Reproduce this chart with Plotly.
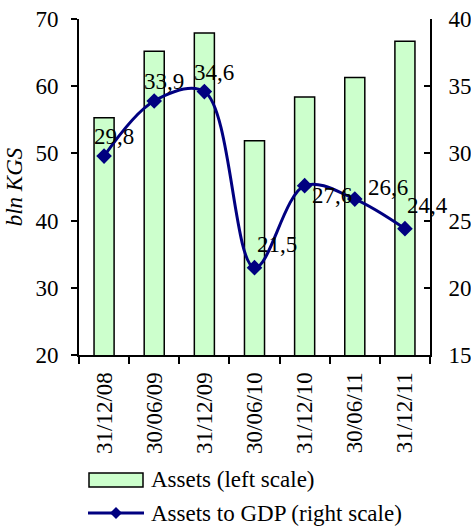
import plotly.graph_objects as go

categories = ["31/12/08", "30/06/09", "31/12/09", "30/06/10", "31/12/10", "30/06/11", "31/12/11"]
assets = [55.3, 65.2, 67.9, 51.9, 58.4, 61.3, 66.7]
assets_to_gdp = [29.8, 33.9, 34.6, 21.5, 27.6, 26.6, 24.4]
gdp_labels = ["29,8", "33,9", "34,6", "21,5", "27,6", "26,6", "24,4"]
legend_names = ["Assets (left scale)", "Assets to GDP (right scale)"]

# label offsets in pixels (style)
label_dx = [10, 10, 10, 22, 27, 33, 23]
label_dy = [20, 19, 19, 23, -10, 12, 23]

FONT = "Liberation Serif, Times New Roman, serif"
FS = 23
NAVY = "#000080"
GREEN = "#CCFFCC"

W, H = 471, 529
L, R, T, B = 79, 41, 19, 174
PW, PH = W - L - R, H - T - B


def px(x):
    return (x - L) / PW


def py(y):
    return (H - B - y) / PH


fig = go.Figure()
fig.add_trace(go.Bar(
    x=categories, y=assets, name=legend_names[0],
    marker=dict(color=GREEN, line=dict(color="black", width=1.5)),
    width=0.4, yaxis="y",
))
fig.add_trace(go.Scatter(
    x=categories, y=assets_to_gdp, name=legend_names[1],
    mode="lines+markers",
    line=dict(color=NAVY, width=3, shape="spline", smoothing=1),
    marker=dict(symbol="diamond", size=12, color=NAVY),
    yaxis="y2",
))

for c, v, t, dx, dy in zip(categories, assets_to_gdp, gdp_labels, label_dx, label_dy):
    fig.add_annotation(x=c, y=v, yref="y2", text=t, showarrow=False,
                       xshift=dx, yshift=dy, font=dict(family=FONT, size=FS, color="black"))

# custom legend
fig.add_shape(type="rect", xref="paper", yref="paper",
              x0=px(89), x1=px(143), y0=py(473), y1=py(487),
              fillcolor=GREEN, line=dict(color="black", width=1.5))
fig.add_shape(type="line", xref="paper", yref="paper",
              x0=px(88), x1=px(144), y0=py(513), y1=py(513),
              line=dict(color=NAVY, width=3))
fig.add_shape(type="path", xref="paper", yref="paper",
              path=f"M {px(110)} {py(513)} L {px(116)} {py(507)} L {px(122)} {py(513)} L {px(116)} {py(519)} Z",
              fillcolor=NAVY, line=dict(color=NAVY, width=0))
fig.add_annotation(xref="paper", yref="paper", x=px(149), y=py(479), xanchor="left", yanchor="middle",
                   text=legend_names[0], showarrow=False, font=dict(family=FONT, size=FS))
fig.add_annotation(xref="paper", yref="paper", x=px(149), y=py(513), xanchor="left", yanchor="middle",
                   text=legend_names[1], showarrow=False, font=dict(family=FONT, size=FS))

fig.update_layout(
    width=W, height=H,
    margin=dict(l=L, r=R, t=T, b=B),
    paper_bgcolor="white", plot_bgcolor="white",
    font=dict(family=FONT, size=FS, color="black"),
    showlegend=False,
    bargap=0.6,
    xaxis=dict(type="category", range=[-0.5, len(categories) - 0.5], autorange=False,
               tickangle=-90, showline=True, linecolor="black", linewidth=2,
               ticks="outside", tickson="boundaries", ticklen=7, tickwidth=2, tickcolor="black",
               showgrid=False, tickfont=dict(family=FONT, size=FS), automargin=False,
               ticklabelstandoff=6),
    yaxis=dict(range=[20, 70], dtick=10, showline=True, linecolor="black", linewidth=2,
               ticks="outside", ticklen=6, tickwidth=2, tickcolor="black", showgrid=False,
               zeroline=False, automargin=False, ticklabelstandoff=8, ticklabeloverflow="allow",
               title=dict(text="<i>bln KGS</i>", font=dict(family=FONT, size=FS), standoff=6)),
    yaxis2=dict(range=[15, 40], dtick=5, overlaying="y", side="right", showline=True,
                linecolor="black", linewidth=2, ticks="inside", ticklen=6, tickwidth=2,
                tickcolor="black", showgrid=False, zeroline=False, automargin=False,
                ticklabelstandoff=12, ticklabeloverflow="allow"),
)

fig.write_html(
    "out.html",
    config={"displayModeBar": False},
    post_script="document.body.style.margin='0';document.body.style.padding='0';"
                "document.documentElement.style.overflow='hidden';",
)
